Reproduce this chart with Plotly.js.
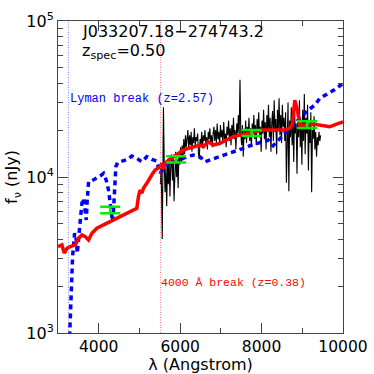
<!DOCTYPE html>
<html><head><meta charset="utf-8">
<script src="https://cdn.plot.ly/plotly-3.0.1.min.js"></script>
<style>html,body{margin:0;padding:0;background:#fff;}#c{width:374px;height:374px;}</style>
</head><body><div id="c"></div>
<script>
// Observed spectrum (black)
const specX = [5515,5530,5545,5560,5575,5590,5610,5630,5650,5670,5690,5710,5730,5750,5770,5790,5810,5830,5850,5870,5890,5910,5930,5950,5970,5990,6010,6030,6050,6070,6090,6110,6130,6150,6170,6190,6210,6230,6250,6270,6290,6310,6330,6350,6370,6390,6410,6430,6450,6470,6490,6510,6530,6550,6570,6590,6610,6630,6650,6670,6690,6710,6730,6750,6770,6790,6810,6830,6850,6870,6890,6910,6930,6950,6970,6990,7010,7030,7050,7070,7090,7110,7130,7150,7170,7190,7210,7230,7250,7270,7290,7310,7330,7350,7370,7390,7410,7430,7450,7470,7490,7510,7530,7550,7570,7590,7610,7630,7650,7670,7690,7710,7730,7750,7770,7790,7810,7830,7850,7870,7890,7910,7930,7950,7970,7990,8010,8030,8050,8070,8090,8110,8130,8150,8170,8190,8210,8230,8250,8270,8290,8310,8330,8350,8370,8390,8410,8430,8450,8470,8490,8510,8530,8550,8570,8590,8610,8630,8650,8670,8690,8710,8730,8750,8770,8790,8810,8830,8850,8870,8890,8910,8930,8950,8970,8990,9010,9030,9050,9070,9090,9110,9130,9150,9170,9190,9210,9230,9250,9270,9290,9310,9330,9350,9370,9390,9410,9430,9450];
const specY = [9000,12000,8000,4000,10000,28000,12000,8000,11500,6500,12500,9000,13000,7500,12000,14000,9500,13500,7000,12500,14500,10000,13000,8500,14000,12000,15500,12500,16000,13000,17500,14000,18500,15500,17000,20000,15000,18500,16000,19500,14500,18000,16500,20500,15500,18000,17000,19000,14000,13000,17500,16000,19500,15500,18500,17000,20000,16000,18000,15000,19500,17500,20500,16500,18500,15500,19000,21000,17000,20000,16500,22000,17500,19500,16000,21500,18000,20000,16500,22500,17500,19000,15500,21000,18500,23000,17000,20500,16000,21500,18000,24000,17500,20000,15000,22000,19000,25000,18500,42000,19000,16000,21500,13500,20000,17500,23000,16500,21000,18000,24000,17000,20500,15500,22000,19000,25000,17500,21500,16000,23500,19500,26000,18000,21000,14500,23000,19000,27000,17500,22500,15000,25000,19500,29000,18000,24000,14500,22000,26500,17000,31000,19500,23500,14000,27000,20000,32000,18500,25000,16500,29000,21000,24000,17000,26000,9200,20000,30000,8100,23000,18000,28000,16000,24000,12500,27000,19000,22000,10500,25000,18000,31000,15500,22500,12000,27000,17000,34000,14000,24000,19000,29000,11000,21500,16500,26000,8000,20000,17500,24500,15000,19500,13500,18000,16000,19500,17000,18500];

// 4000 A break template, z=0.38 (red)
const redX = [3000,3097,3154,3220,3301,3424,3505,3587,3669,3750,3832,3955,4118,4282,4404,4527,4650,4772,4854,4936,4976,5017,5058,5099,5181,5221,5303,5385,5467,5507,5548,5589,5630,5712,5834,5957,6079,6202,6324,6488,6569,6692,6815,6978,7141,7305,7468,7672,7836,8040,8203,8367,8530,8694,8759,8816,8882,8939,9102,9266,9429,9552,9674,9838,10000];
const redY = [3580,3670,3250,3490,3580,3670,4050,4250,4150,3950,4360,4690,4930,5180,5305,5570,5710,6000,6090,6300,7480,8260,7860,8460,9110,9565,10300,11080,11360,11640,12230,11360,12230,12850,13490,14170,14880,15260,15630,16030,15630,16830,16030,16420,17250,18120,18560,19020,19500,19980,19980,19980,19980,20480,22050,31090,26840,21510,21510,21830,21510,21200,20990,21830,22590];

// Lyman break template, z=2.57 (blue)
const blueX = [3285,3326,3359,3408,3449,3473,3506,3547,3587,3628,3669,3694,3718,3751,3833,3955,4037,4118,4184,4241,4282,4306,4339,4364,4388,4421,4462,4543,4625,4707,4813,4935,5058,5181,5303,5426,5507,5589,5671,5793,5916,6038,6161,6324,6488,6610,6733,6896,7060,7223,7386,7550,7713,7877,8040,8163,8285,8408,8530,8653,8775,8898,9020,9143,9306,9429,9592,9797,10000];
const blueY = [951,1893,3094,4360,3950,3247,4150,5053,6785,7305,6152,5305,7129,9335,9474,9804,10150,10555,9565,8257,6461,5573,5177,6152,8674,11640,12350,12530,12850,12970,13625,13165,12530,13490,12970,12660,10555,11360,11930,12350,12530,12970,13490,13826,13490,12530,12850,13165,13625,14170,14740,15260,15870,16420,16920,17250,15870,17250,18560,19980,21510,23150,24930,26840,28890,31870,33810,36390,39760];

// Broad-band photometry (green)
const photX = [4282, 5900, 7755, 9118];
const photY = [6150, 13000, 19150, 21700];
const photErr = [300, 600, 850, 1100];

// Break positions
const lymanBreakX = 3256;
const balmerBreakX = 5520;

const xTicks = [4000, 6000, 8000, 10000];
const yTicks = [1000, 10000, 100000];
const yTickText = ['10<sup>3</sup>', '10<sup>4</sup>', '10<sup>5</sup>'];
const yMinor = [2000,3000,4000,5000,6000,7000,8000,9000,20000,30000,40000,50000,60000,70000,80000,90000];

const traces = [
  {x: specX, y: specY, type: 'scatter', mode: 'lines', line: {color: '#000', width: 1.1}, hoverinfo: 'skip'},
  {x: blueX, y: blueY, type: 'scatter', mode: 'lines', line: {color: '#0000ff', width: 3.5, dash: '5px,4px'}},
  {x: redX, y: redY, type: 'scatter', mode: 'lines', line: {color: '#ff0000', width: 3.5}},
  {x: photX, y: photY, type: 'scatter', mode: 'markers', marker: {size: 1, color: 'rgba(0,0,0,0)'},
   error_y: {type: 'data', array: photErr, visible: true, color: '#00ee00', thickness: 2.5, width: 10}}
];

const font = 'DejaVu Sans, sans-serif';
const layout = {
  width: 374, height: 374,
  margin: {l: 58, r: 31, t: 21, b: 41},
  paper_bgcolor: '#fff', plot_bgcolor: '#fff',
  showlegend: false,
  font: {family: font, size: 16, color: '#000'},
  xaxis: {
    range: [3000, 10000], showgrid: false, zeroline: false,
    showline: true, linecolor: '#444', linewidth: 1, mirror: 'allticks',
    ticks: 'inside', ticklen: 10, tickcolor: '#444', tickwidth: 1,
    tickmode: 'array', tickvals: xTicks, ticktext: xTicks.map(String),
    tickfont: {family: font, size: 15.5}, ticklabelstandoff: -1,
    minor: {ticks: 'inside', ticklen: 5, dtick: 1000, tick0: 3000, tickcolor: '#444', showgrid: false},
    title: {text: 'λ (Angstrom)', font: {family: font, size: 16}, standoff: 1},
    automargin: false
  },
  yaxis: {
    type: 'log', range: [3, 5], showgrid: false, zeroline: false,
    showline: true, linecolor: '#444', linewidth: 1, mirror: 'allticks',
    ticks: 'inside', ticklen: 10, tickcolor: '#444', tickwidth: 1,
    tickmode: 'array', tickvals: yTicks, ticktext: yTickText,
    tickfont: {family: font, size: 16},
    minor: {ticks: 'inside', ticklen: 5, tickmode: 'array', tickvals: yMinor, tickcolor: '#444', showgrid: false},
    title: {text: 'f<sub>ν</sub> (nJy)', font: {family: font, size: 16}, standoff: 4},
    automargin: false
  },
  shapes: [
    {type: 'line', xref: 'x', yref: 'paper', x0: lymanBreakX, x1: lymanBreakX, y0: 0, y1: 1, line: {color: '#6060ff', width: 0.8, dash: '1px,1.5px'}},
    {type: 'line', xref: 'x', yref: 'paper', x0: balmerBreakX, x1: balmerBreakX, y0: 0, y1: 1, line: {color: '#ff5050', width: 0.8, dash: '1px,1.5px'}}
  ],
  annotations: [
    {text: 'J033207.18−274743.2', xref: 'paper', yref: 'paper', x: 0.078, y: 0.966, xanchor: 'left', yanchor: 'middle', showarrow: false, font: {family: font, size: 16, color: '#000'}},
    {text: 'z<sub>spec</sub>=0.50', xref: 'paper', yref: 'paper', x: 0.078, y: 0.903, xanchor: 'left', yanchor: 'middle', showarrow: false, font: {family: font, size: 16, color: '#000'}},
    {text: 'Lyman break (z=2.57)', xref: 'paper', yref: 'paper', x: 0.034, y: 0.7495, xanchor: 'left', yanchor: 'middle', showarrow: false, font: {family: 'Liberation Mono, monospace', size: 12, color: '#0000ff'}},
    {text: '4000 Å break (z=0.38)', xref: 'paper', yref: 'paper', x: 0.356, y: 0.161, xanchor: 'left', yanchor: 'middle', showarrow: false, font: {family: 'Liberation Mono, monospace', size: 11.5, color: '#ff0000'}}
  ]
};

Plotly.newPlot('c', traces, layout, {staticPlot: true, displayModeBar: false});
</script>
</body></html>
